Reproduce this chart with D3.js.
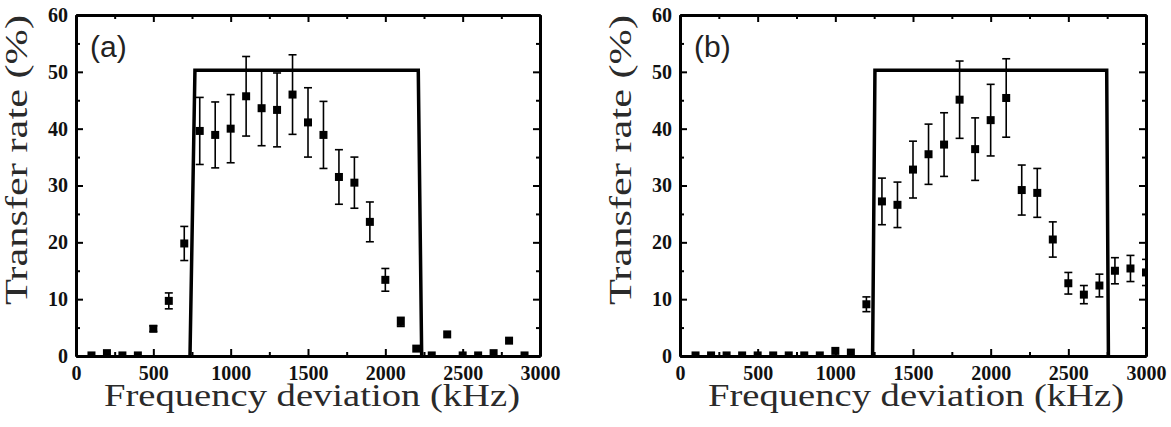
<!DOCTYPE html>
<html>
<head>
<meta charset="utf-8">
<script src="https://cdn.jsdelivr.net/npm/d3@7"></script>
<style>
  body { margin: 0; background: #fff; }
  svg text { font-family: "Liberation Serif", "Times New Roman", Times, serif; }
  svg text.sans { font-family: "Liberation Sans", Arial, sans-serif; }
</style>
</head>
<body>
<script>
// frequency values (kHz)
var freqA = [100,200,300,400,500,600,700,800,900,1000,1100,1200,1300,1400,1500,1600,1700,1800,1900,2000,2100,2200,2300,2400,2500,2600,2700,2800,2900];
var rateA = [0.1,0.5,0.1,0.1,4.8,9.7,19.8,39.6,38.9,40.0,45.7,43.6,43.3,46.0,41.1,38.9,31.5,30.5,23.6,13.4,6.0,1.3,0.1,3.8,0.1,0.1,0.5,2.7,0.1];
var errA  = [0,0,0,0,0.5,1.4,3.0,5.9,5.8,6.0,7.0,6.6,6.5,7.0,6.1,5.9,4.8,4.5,3.5,2.0,0.8,0,0,0,0,0,0,0,0];
var bandA_x = [737, 769, 2213, 2235];
var bandA_y = [0, 50.3, 50.3, 0];

var freqB = [100,200,300,400,500,600,700,800,900,1000,1100,1200,1300,1400,1500,1600,1700,1800,1900,2000,2100,2200,2300,2400,2500,2600,2700,2800,2900,3000];
var rateB = [0.1,0.1,0.1,0.1,0.1,0.1,0.1,0.1,0.1,0.9,0.6,9.1,27.2,26.6,32.8,35.5,37.2,45.1,36.4,41.5,45.4,29.2,28.7,20.5,12.8,10.8,12.4,15.0,15.4,14.7];
var errB  = [0,0,0,0,0,0,0,0,0,0,0,1.3,4.1,4.0,5.0,5.3,5.6,6.8,5.5,6.3,6.9,4.4,4.3,3.1,1.9,1.6,2.0,2.3,2.3,2.3];
var bandB_x = [1240, 1255, 2747, 2758];
var bandB_y = [0, 50.3, 50.3, 0];

var xMajor = [0,500,1000,1500,2000,2500,3000];
var xMinor = [250,750,1250,1750,2250,2750];
var yMajor = [0,10,20,30,40,50,60];
var yMinor = [5,15,25,35,45,55];

var xTitle = "Frequency deviation (kHz)";
var yTitle = "Transfer rate (%)";

var width = 1171, height = 427;
var top0 = 15, bottom0 = 356;

var svg = d3.select("body").append("svg")
  .attr("width", width)
  .attr("height", height);

function drawPanel(id, left, right, label, freq, rate, err, bx, by) {
  var xScale = d3.scaleLinear().domain([0, 3000]).range([left, right]);
  var yScale = d3.scaleLinear().domain([0, 60]).range([bottom0, top0]);

  svg.append("clipPath").attr("id", "clip" + id)
    .append("rect")
    .attr("x", left).attr("y", top0)
    .attr("width", right - left).attr("height", bottom0 - top0);

  var plot = svg.append("g").attr("clip-path", "url(#clip" + id + ")");

  // band line
  var line = d3.line()
    .x(function(d) { return xScale(d[0]); })
    .y(function(d) { return yScale(d[1]); });
  plot.append("path")
    .datum(d3.zip(bx, by))
    .attr("d", line)
    .attr("fill", "none")
    .attr("stroke", "#000")
    .attr("stroke-width", 3.5);

  var pts = d3.range(freq.length).map(function(i) {
    return {x: freq[i], y: rate[i], e: err[i]};
  });

  // error bars
  var eb = plot.selectAll("g.eb")
    .data(pts.filter(function(d) { return d.e > 0; }))
    .enter().append("g")
    .attr("stroke", "#000")
    .attr("stroke-width", 1.6);
  eb.append("line")
    .attr("x1", function(d) { return xScale(d.x); })
    .attr("x2", function(d) { return xScale(d.x); })
    .attr("y1", function(d) { return yScale(d.y + d.e); })
    .attr("y2", function(d) { return yScale(d.y - d.e); });
  [1, -1].forEach(function(s) {
    eb.append("line")
      .attr("x1", function(d) { return xScale(d.x) - 4; })
      .attr("x2", function(d) { return xScale(d.x) + 4; })
      .attr("y1", function(d) { return yScale(d.y + s * d.e); })
      .attr("y2", function(d) { return yScale(d.y + s * d.e); });
  });

  // markers
  plot.selectAll("rect.pt")
    .data(pts)
    .enter().append("rect")
    .attr("x", function(d) { return xScale(d.x) - 4; })
    .attr("y", function(d) { return yScale(d.y) - 4; })
    .attr("width", 8)
    .attr("height", 8)
    .attr("fill", "#000");

  // axes, ticks inward on all four sides
  function styleAxis(g) {
    g.attr("font-size", 20)
      .attr("font-weight", "bold");
    g.select(".domain").attr("stroke", "#000").attr("stroke-width", 3);
    g.selectAll(".tick line").attr("stroke", "#000").attr("stroke-width", 2);
    g.selectAll(".tick text").attr("fill", "#111");
  }
  svg.append("g")
    .attr("transform", "translate(0," + bottom0 + ")")
    .call(d3.axisBottom(xScale).tickValues(xMinor).tickSize(-4).tickSizeOuter(0).tickFormat(""))
    .call(styleAxis);
  svg.append("g")
    .attr("transform", "translate(0," + bottom0 + ")")
    .call(d3.axisBottom(xScale).tickValues(xMajor).tickSize(-7).tickSizeOuter(0).tickPadding(10).tickFormat(d3.format("d")))
    .call(styleAxis);
  svg.append("g")
    .attr("transform", "translate(0," + top0 + ")")
    .call(d3.axisTop(xScale).tickValues(xMinor).tickSize(-4).tickSizeOuter(0).tickFormat(""))
    .call(styleAxis);
  svg.append("g")
    .attr("transform", "translate(0," + top0 + ")")
    .call(d3.axisTop(xScale).tickValues(xMajor).tickSize(-7).tickSizeOuter(0).tickFormat(""))
    .call(styleAxis);
  svg.append("g")
    .attr("transform", "translate(" + left + ",0)")
    .call(d3.axisLeft(yScale).tickValues(yMinor).tickSize(-4).tickSizeOuter(0).tickFormat(""))
    .call(styleAxis);
  svg.append("g")
    .attr("transform", "translate(" + left + ",0)")
    .call(d3.axisLeft(yScale).tickValues(yMajor).tickSize(-7).tickSizeOuter(0).tickPadding(8).tickFormat(d3.format("d")))
    .call(styleAxis);
  svg.append("g")
    .attr("transform", "translate(" + right + ",0)")
    .call(d3.axisRight(yScale).tickValues(yMinor).tickSize(-4).tickSizeOuter(0).tickFormat(""))
    .call(styleAxis);
  svg.append("g")
    .attr("transform", "translate(" + right + ",0)")
    .call(d3.axisRight(yScale).tickValues(yMajor).tickSize(-7).tickSizeOuter(0).tickFormat(""))
    .call(styleAxis);

  // panel label
  svg.append("text")
    .attr("class", "sans")
    .attr("x", left + 14)
    .attr("y", 57)
    .attr("font-size", 30)
    .attr("fill", "#222")
    .text(label);

  // axis titles
  svg.append("text")
    .attr("x", left + 28)
    .attr("y", 406)
    .attr("textLength", 416)
    .attr("lengthAdjust", "spacingAndGlyphs")
    .attr("font-size", 32)
    .attr("fill", "#2a2a2a")
    .text(xTitle);
  svg.append("text")
    .attr("transform", "translate(" + (left - 49) + "," + 305 + ") rotate(-90)")
    .attr("textLength", 290)
    .attr("lengthAdjust", "spacingAndGlyphs")
    .attr("font-size", 31)
    .attr("fill", "#2a2a2a")
    .text(yTitle);
}

drawPanel("A", 76, 540, "(a)", freqA, rateA, errA, bandA_x, bandA_y);
drawPanel("B", 680, 1146, "(b)", freqB, rateB, errB, bandB_x, bandB_y);
</script>
</body>
</html>
